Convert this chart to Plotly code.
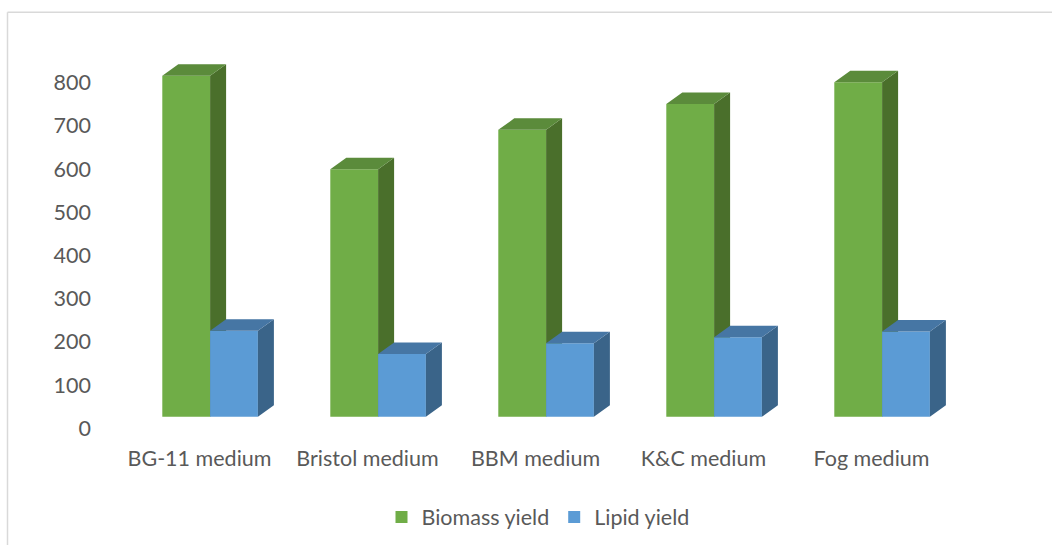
import plotly.graph_objects as go

# ---------------- data ----------------
categories = ["BG-11 medium", "Bristol medium", "BBM medium", "K&C medium", "Fog medium"]
biomass_yield = [789, 573, 664, 724, 774]
lipid_yield = [199, 145, 170, 184, 197]
y_tick_values = [0, 100, 200, 300, 400, 500, 600, 700, 800]
series_names = ["Biomass yield", "Lipid yield"]

# ---------------- style / geometry (pixels) ----------------
W, H = 1052, 545
FONT = "Lato, 'Open Sans', sans-serif"
TEXT = "#595959"
FS = 21.5

CAT_STEP = 168.0      # px between categories
CAT0_X = 199.5        # px of first category label centre
PLOT_L, PLOT_R, PLOT_T, PLOT_B = 100.0, 1040.0, 30.0, 440.0
PX_PER_VAL = 0.432
BAR_ZERO_Y = 416.7    # px of bar front base
LABEL_ZERO_Y = 428.3  # px of the "0" tick label
DEPTH_X, DEPTH_Y = 16.0, 11.5
BAR_W = 47.8
GREEN_LEFT = -37.2

x_range = [-(CAT0_X - PLOT_L) / CAT_STEP, (PLOT_R - CAT0_X) / CAT_STEP]


def y_range(zero_px):
    return [-(PLOT_B - zero_px) / PX_PER_VAL, (zero_px - PLOT_T) / PX_PER_VAL]


dx = DEPTH_X / CAT_STEP
dy = DEPTH_Y / PX_PER_VAL
bw = BAR_W / CAT_STEP
offsets = [GREEN_LEFT / CAT_STEP, (GREEN_LEFT + BAR_W) / CAT_STEP]
colors = [
    dict(front="#70AD47", top="#5B8B3B", side="#4A6F2B"),
    dict(front="#5B9BD5", top="#4676A4", side="#3A6489"),
]
axes = [("x", "y"), ("x2", "y3")]


def faces(values, off):
    tx, ty, sx, sy = [], [], [], []
    for i, v in enumerate(values):
        a = i + off
        b = a + bw
        tx += [a, a + dx, b + dx, b, a, None]
        ty += [v, v + dy, v + dy, v, v, None]
        sx += [b, b + dx, b + dx, b, b, None]
        sy += [0, dy, v + dy, v, 0, None]
    return tx, ty, sx, sy


fig = go.Figure()
xs = list(range(len(categories)))
for k, values in enumerate([biomass_yield, lipid_yield]):
    xa, ya = axes[k]
    c = colors[k]
    fig.add_trace(go.Bar(
        x=xs, y=values, name=series_names[k], offset=offsets[k], width=bw,
        marker=dict(color=c["front"], line=dict(width=0)),
        xaxis=xa, yaxis=ya, showlegend=True,
    ))
    tx, ty, sx, sy = faces(values, offsets[k])
    fig.add_trace(go.Scatter(x=sx, y=sy, mode="lines", fill="toself", fillcolor=c["side"],
                             line=dict(width=0, color=c["side"]), xaxis=xa, yaxis=ya,
                             showlegend=False, hoverinfo="skip"))
    fig.add_trace(go.Scatter(x=tx, y=ty, mode="lines", fill="toself", fillcolor=c["top"],
                             line=dict(width=0, color=c["top"]), xaxis=xa, yaxis=ya,
                             showlegend=False, hoverinfo="skip"))

# dummy trace so the label axis is drawn
fig.add_trace(go.Scatter(x=[None], y=[None], xaxis="x", yaxis="y2", showlegend=False,
                         hoverinfo="skip"))

x_dom = [PLOT_L / W, PLOT_R / W]
y_dom = [(H - PLOT_B) / H, (H - PLOT_T) / H]

fig.update_layout(
    template="none",
    width=W, height=H,
    margin=dict(l=0, r=0, t=0, b=0, autoexpand=False),
    paper_bgcolor="white", plot_bgcolor="rgba(0,0,0,0)",
    font=dict(family=FONT, size=FS, color=TEXT),
    barmode="overlay",
    xaxis=dict(domain=x_dom, range=x_range, tickmode="array", tickvals=xs, ticktext=categories,
               showgrid=False, zeroline=False, showline=False, ticks="", automargin=False,
               ticklabelstandoff=3, tickfont=dict(size=FS, color=TEXT)),
    xaxis2=dict(domain=x_dom, range=x_range, overlaying="x", visible=False, anchor="y3"),
    yaxis=dict(domain=y_dom, range=y_range(BAR_ZERO_Y), visible=False, automargin=False),
    yaxis3=dict(domain=y_dom, range=y_range(BAR_ZERO_Y), overlaying="y", visible=False,
                anchor="x2"),
    yaxis2=dict(domain=y_dom, range=y_range(LABEL_ZERO_Y), overlaying="y", anchor="free",
                position=91 / W, side="left", tickmode="array", tickvals=y_tick_values,
                showgrid=False, zeroline=False, showline=False, ticks="", automargin=False,
                tickfont=dict(size=FS, color=TEXT)),
    legend=dict(orientation="h", x=538 / W, xanchor="center", y=(H - 517) / H,
                yanchor="middle", font=dict(size=FS, color=TEXT), bgcolor="rgba(0,0,0,0)",
                traceorder="normal"),
    shapes=[
        dict(type="line", xref="paper", yref="paper", x0=7.5 / W, x1=7.5 / W,
             y0=0, y1=(H - 12.3) / H, line=dict(color="#D9D9D9", width=1.5)),
        dict(type="line", xref="paper", yref="paper", x0=7.5 / W, x1=1,
             y0=(H - 12.3) / H, y1=(H - 12.3) / H, line=dict(color="#D9D9D9", width=1.5)),
    ],
)

fig.write_html("out.html")
